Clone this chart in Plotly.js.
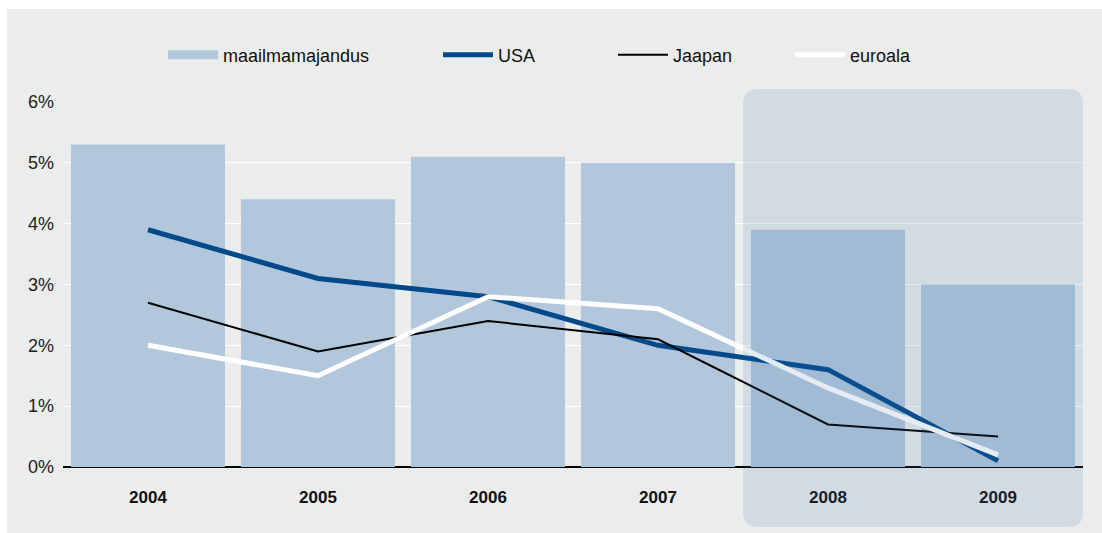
<!DOCTYPE html>
<html>
<head>
<meta charset="utf-8">
<script src="https://cdn.plot.ly/plotly-3.0.1.min.js"></script>
<style>
  html, body { margin: 0; padding: 0; background: #fff; }
  #chart { width: 1102px; height: 533px; }
</style>
</head>
<body>
<div id="chart"></div>
<script>
// values, in % growth
var years = [2004, 2005, 2006, 2007, 2008, 2009];
var yearLabels = ['2004', '2005', '2006', '2007', '2008', '2009'];
var maailm = [5.3, 4.4, 5.1, 5.0, 3.9, 3.0];
var usa = [3.9, 3.1, 2.8, 2.0, 1.6, 0.1];
var jaapan = [2.7, 1.9, 2.4, 2.1, 0.7, 0.5];
var euroala = [2.0, 1.5, 2.8, 2.6, 1.3, 0.2];
var forecastFrom = 2007.5;

var W = 1102, H = 533;
var m = {l: 63, r: 19, t: 102, b: 66};
var xr = [2003.5, 2009.5];
var yr = [0, 6];

// pixel -> paper helpers (only for the decorations)
function px(x) { return (x - m.l) / (W - m.l - m.r); }
function py(y) { return (H - m.b - y) / (H - m.t - m.b); }

var barColor = '#b2c7dc';
var font = 'Liberation Sans, Arial, Helvetica, sans-serif';

var traces = [
    {
        type: 'bar', x: years, y: maailm, name: 'maailmamajandus',
        marker: {color: barColor}, showlegend: false, hoverinfo: 'skip'
    },
    // legend stand-in for the bars (wide swatch)
    {
        type: 'scatter', mode: 'lines', x: [null], y: [null], name: 'maailmamajandus',
        line: {color: barColor, width: 9}, legend: 'legend'
    },
    {
        type: 'scatter', mode: 'lines', x: years, y: usa, name: 'USA',
        line: {color: '#004a8c', width: 5}, legend: 'legend2'
    },
    {
        type: 'scatter', mode: 'lines', x: years, y: jaapan, name: 'Jaapan',
        line: {color: '#000000', width: 2}, legend: 'legend3'
    },
    {
        type: 'scatter', mode: 'lines', x: years, y: euroala, name: 'euroala',
        line: {color: '#ffffff', width: 5}, legend: 'legend4'
    }
];

function legendAt(xpix) {
    return {
        x: px(xpix), xanchor: 'left', y: py(55), yanchor: 'middle',
        orientation: 'h', bgcolor: 'rgba(0,0,0,0)', borderwidth: 0,
        itemwidth: 50,
        font: {family: font, size: 18, color: '#111'}
    };
}

// rounded highlight for the forecast years
var hx0 = (forecastFrom - xr[0]) / (xr[1] - xr[0]), hx1 = 1;
var hy0 = py(527), hy1 = py(89);
var rx = 15 / (W - m.l - m.r), ry = 15 / (H - m.t - m.b);
var roundPath = 'M' + (hx0 + rx) + ',' + hy1 +
    ' L' + (hx1 - rx) + ',' + hy1 +
    ' Q' + hx1 + ',' + hy1 + ' ' + hx1 + ',' + (hy1 - ry) +
    ' L' + hx1 + ',' + (hy0 + ry) +
    ' Q' + hx1 + ',' + hy0 + ' ' + (hx1 - rx) + ',' + hy0 +
    ' L' + (hx0 + rx) + ',' + hy0 +
    ' Q' + hx0 + ',' + hy0 + ' ' + hx0 + ',' + (hy0 + ry) +
    ' L' + hx0 + ',' + (hy1 - ry) +
    ' Q' + hx0 + ',' + hy1 + ' ' + (hx0 + rx) + ',' + hy1 + ' Z';

var layout = {
    width: W, height: H,
    margin: m,
    paper_bgcolor: '#ffffff',
    plot_bgcolor: 'rgba(0,0,0,0)',
    font: {family: font, size: 18, color: '#111'},
    bargap: 0.094,
    showlegend: true,
    legend: legendAt(163),
    legend2: legendAt(438),
    legend3: legendAt(613),
    legend4: legendAt(790),
    xaxis: {
        range: xr, tickvals: years, ticktext: yearLabels,
        showgrid: false, zeroline: false, showline: false, ticks: '',
        tickfont: {family: font, size: 17, color: '#111', weight: 'bold'},
        ticklabelstandoff: 18, fixedrange: true
    },
    yaxis: {
        range: yr, dtick: 1, ticksuffix: '%',
        showgrid: true, gridcolor: '#ffffff', gridwidth: 1,
        zeroline: true, zerolinecolor: '#000000', zerolinewidth: 1.5,
        ticks: '', showline: false,
        tickfont: {family: font, size: 18, color: '#222'},
        ticklabelstandoff: 8, fixedrange: true
    },
    shapes: [
        {
            type: 'rect', xref: 'paper', yref: 'paper', layer: 'below',
            x0: px(7), x1: px(1102), y0: py(533), y1: py(9),
            fillcolor: '#ebecec', line: {width: 0}
        },
        {
            type: 'path', xref: 'paper', yref: 'paper', layer: 'above',
            path: roundPath, fillcolor: 'rgba(67,111,173,0.14)', line: {width: 0}
        }
    ]
};

Plotly.newPlot('chart', traces, layout, {displayModeBar: false, staticPlot: true});
</script>
</body>
</html>
